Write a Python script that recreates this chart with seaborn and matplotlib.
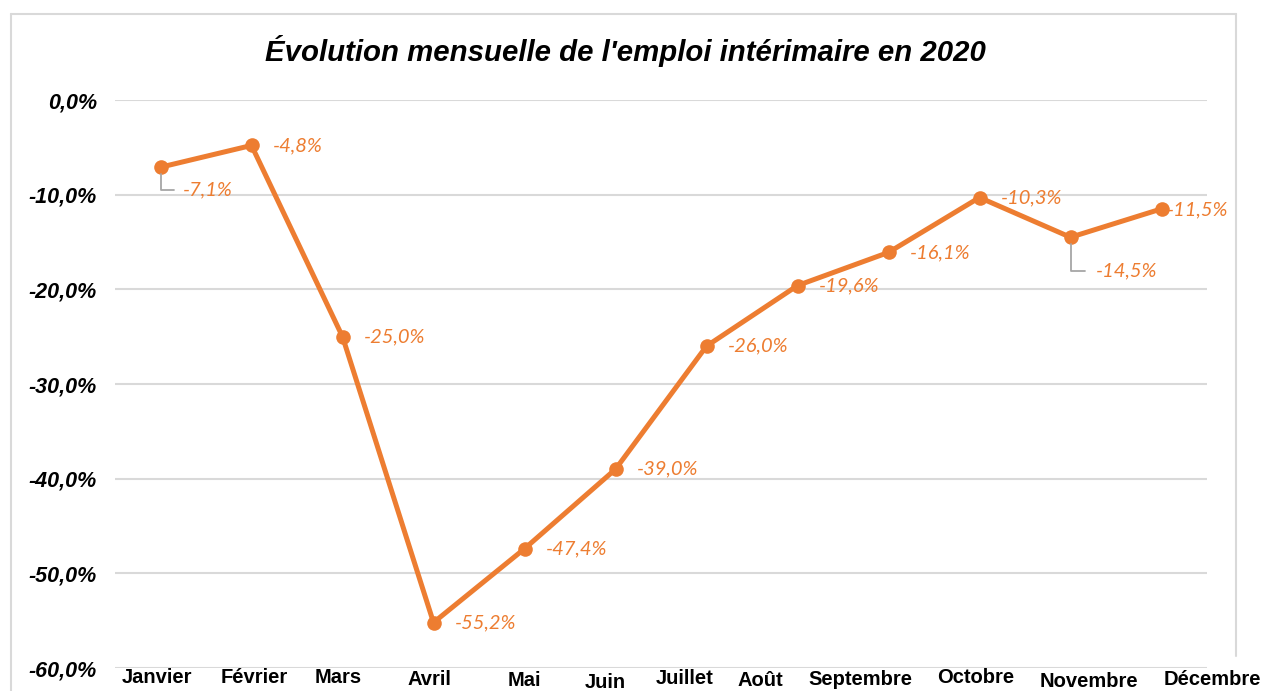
import matplotlib
matplotlib.use("Agg")
import matplotlib.pyplot as plt
import matplotlib.transforms as mtransforms
from matplotlib.lines import Line2D
from matplotlib.ticker import FuncFormatter
import seaborn as sns
import pandas as pd

months = ["Janvier", "Février", "Mars", "Avril", "Mai", "Juin", "Juillet",
          "Août", "Septembre", "Octobre", "Novembre", "Décembre"]
values = [-7.1, -4.8, -25.0, -55.2, -47.4, -39.0, -26.0, -19.6, -16.1, -10.3, -14.5, -11.5]
y_ticks = [0, -10, -20, -30, -40, -50, -60]
title = "Évolution mensuelle de l'emploi intérimaire en 2020"

orange = "#ED7D31"
grid_col = "#D9D9D9"
W, H = 1264, 691

sns.set_style("white")
plt.rcParams["font.family"] = ["Liberation Sans", "DejaVu Sans"]
plt.rcParams["text.color"] = "black"
plt.rcParams["xtick.color"] = "black"
plt.rcParams["ytick.color"] = "black"

fig = plt.figure(figsize=(W / 100, H / 100), dpi=100)
ax = fig.add_axes([115 / W, 1 - 668 / H, (1207 - 115) / W, (668 - 100) / H])

df = pd.DataFrame({"mois": months, "evol": values})
sns.lineplot(data=df, x="mois", y="evol", sort=False, color=orange, lw=3.6,
             marker="o", markersize=10.5, markeredgewidth=0, ax=ax, clip_on=False)

ax.set_xlim(-0.5, len(months) - 0.5)
ax.set_ylim(-60, 0)
ax.set_yticks(y_ticks)
ax.yaxis.set_major_formatter(FuncFormatter(lambda v, p: f"{v:.1f}%".replace(".", ",")))
for y in y_ticks:
    ax.axhline(y, color=grid_col, lw=1.5, zorder=0)
for s in ax.spines.values():
    s.set_visible(False)
ax.set_xlabel("")
ax.set_ylabel("")

ax.tick_params(axis="y", length=0, pad=13, labelsize=15.5, labelcolor="black")
ax.tick_params(axis="x", length=0, pad=0, labelsize=14.5, labelcolor="black")
for lab in ax.get_yticklabels():
    lab.set_fontweight("bold")
    lab.set_fontstyle("italic")
# Excel places the category labels somewhat irregularly (pixel shifts)
shift_x = [-4, 3, -4, -4, 0, -10, -22, -37, -28, -4, 18, 51]
shift_y = [0, 0, 0, 2, 3, 5, 1, 3, 2, 0, 4, 2]
for lab, dx, dy in zip(ax.get_xticklabels(), shift_x, shift_y):
    lab.set_fontweight("bold")
    lab.set_transform(lab.get_transform() + mtransforms.ScaledTranslation(dx / 100, -dy / 100, fig.dpi_scale_trans))

# data labels (offsets in pixels)
offsets = {i: (21, 0) for i in range(len(values))}
offsets[0] = (22, 23)
offsets[10] = (25, 34)
offsets[11] = (5, 1)
for i, v in enumerate(values):
    dx, dy = offsets[i]
    ax.annotate(f"{v:.1f}%".replace(".", ","), (i, v), xytext=(dx * 0.72, -dy * 0.72),
                textcoords="offset points", ha="left", va="center", color=orange,
                fontsize=14.5, fontstyle="italic", family=["Lato", "DejaVu Sans"])

# leader lines for the two moved labels
fig.canvas.draw()
inv = fig.transFigure.inverted()
for i in (0, 10):
    px, py = ax.transData.transform((i, values[i]))
    dy = offsets[i][1]
    pts = [(px, py - 7), (px, py - dy), (px + 14, py - dy)]
    fp = inv.transform(pts)
    fig.add_artist(Line2D(fp[:, 0], fp[:, 1], color="#A6A6A6", lw=1.3, zorder=1))

# chart border
def fig_line(xs, ys):
    fig.add_artist(Line2D([x / W for x in xs], [1 - y / H for y in ys], color=grid_col, lw=1.5))

fig_line([11, 1236], [14, 14])
fig_line([11, 11], [14, 691])
fig_line([1236, 1236], [14, 656])

fig.text(625 / W, 1 - 61 / H, title, ha="center", va="baseline", fontsize=21.2,
         fontweight="bold", fontstyle="italic")

fig.savefig("out.png", dpi=100)
